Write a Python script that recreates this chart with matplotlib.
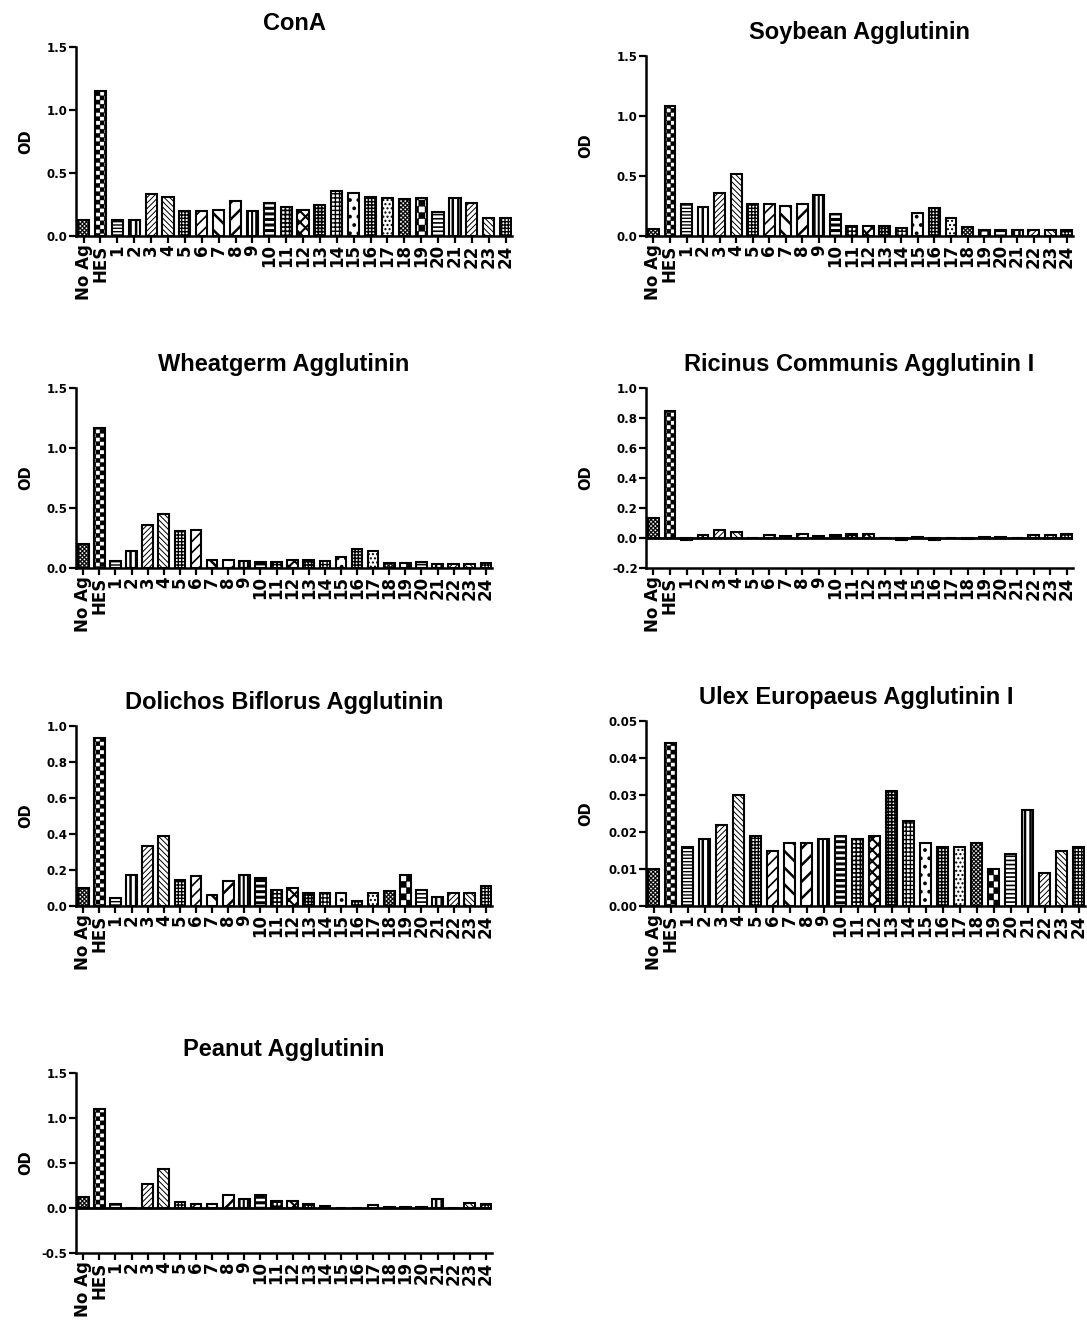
import warnings
import numpy as np
import matplotlib
matplotlib.use('Agg')
import matplotlib.pyplot as plt
import matplotlib.hatch as mhatch
from matplotlib.path import Path
from matplotlib.ticker import FormatStrFormatter, MultipleLocator

warnings.filterwarnings('ignore')

# lectin binding ELISA, OD per antigen
categories = ['No Ag', 'HES'] + [str(i) for i in range(1, 25)]

cona = [0.13, 1.15, 0.13, 0.13, 0.33, 0.31, 0.20, 0.20, 0.21, 0.28, 0.195, 0.26, 0.23,
        0.21, 0.25, 0.355, 0.34, 0.31, 0.30, 0.29, 0.30, 0.19, 0.30, 0.26, 0.14, 0.14]
soybean = [0.06, 1.085, 0.27, 0.24, 0.36, 0.52, 0.27, 0.265, 0.25, 0.265, 0.34, 0.18, 0.08,
           0.08, 0.08, 0.07, 0.19, 0.23, 0.15, 0.075, 0.05, 0.05, 0.05, 0.05, 0.05, 0.05]
wheatgerm = [0.20, 1.17, 0.06, 0.145, 0.36, 0.45, 0.305, 0.315, 0.07, 0.065, 0.055, 0.05, 0.05,
             0.07, 0.07, 0.055, 0.09, 0.16, 0.145, 0.045, 0.045, 0.05, 0.035, 0.035, 0.035, 0.04]
ricinus = [0.135, 0.85, -0.01, 0.02, 0.055, 0.04, 0.003, 0.02, 0.015, 0.025, 0.015, 0.02, 0.03,
           0.028, 0.002, -0.01, 0.005, -0.015, 0.002, -0.007, 0.006, 0.006, 0.001, 0.02, 0.02, 0.028]
dolichos = [0.10, 0.935, 0.045, 0.17, 0.335, 0.39, 0.145, 0.165, 0.06, 0.14, 0.175, 0.155, 0.09,
            0.10, 0.07, 0.07, 0.07, 0.03, 0.07, 0.085, 0.175, 0.09, 0.05, 0.075, 0.075, 0.11]
ulex = [0.010, 0.044, 0.016, 0.018, 0.022, 0.030, 0.019, 0.015, 0.017, 0.017, 0.018, 0.019, 0.018,
        0.019, 0.031, 0.023, 0.017, 0.016, 0.016, 0.017, 0.010, 0.014, 0.026, 0.009, 0.015, 0.016]
peanut = [0.12, 1.095, 0.04, -0.005, 0.27, 0.43, 0.07, 0.05, 0.05, 0.15, 0.105, 0.14, 0.075,
          0.08, 0.045, 0.02, 0.003, 0.003, 0.035, 0.008, 0.008, 0.008, 0.095, 0.003, 0.055, 0.045]

# prism-like fill for each bar ('c'/'cc'/'C' = checkerboards, added below)
hatches = ['cc', 'c', '-----', '|||', '//////', '\\\\\\\\\\\\', '+++++', '///', '\\\\', '//',
           '||||', '---', '++++', 'xxx', '+++++', '++++', '..', '+++++', '....', 'cc', 'C',
           '----', '|||', '//////', '\\\\\\\\\\\\', '+++++']
hatch_lw = [0.3, 0.3, 1.0, 1.8, 0.7, 0.7, 1.0, 1.2, 1.8, 1.8,
            1.5, 2.2, 1.2, 1.5, 1.2, 1.0, 1.5, 1.1, 1.0, 0.3, 0.3,
            1.2, 1.8, 0.7, 0.7, 1.0]


class CheckerHatch(mhatch.Shapes):
    filled = True
    size = 1.0

    def __init__(self, hatch, density):
        n = hatch.count('c')
        self.num_rows = (6 * n if n else 0) + 4 * hatch.count('C')
        verts, codes = [], []
        for i in range(4):
            for j in range(4):
                if (i + j) % 2 == 0:
                    x0 = -0.5 + 0.25 * i
                    y0 = -0.5 + 0.25 * j
                    verts += [(x0, y0), (x0 + 0.25, y0), (x0 + 0.25, y0 + 0.25),
                              (x0, y0 + 0.25), (x0, y0)]
                    codes += [Path.MOVETO, Path.LINETO, Path.LINETO, Path.LINETO, Path.CLOSEPOLY]
        self.shape_vertices = np.array(verts, dtype=float)
        self.shape_codes = np.array(codes, dtype=Path.code_type)
        super().__init__(hatch, density)


mhatch._hatch_types.append(CheckerHatch)

plt.rcParams['font.family'] = 'DejaVu Sans'
plt.rcParams['font.weight'] = 'bold'

W, H = 1087, 1320
fig = plt.figure(figsize=(W / 100, H / 100), dpi=100)

# (title, values, ymin, ymax, step, fmt, panel box in px: left, top, right, bottom, OD offset)
panels = [
    ('ConA', cona, 0, 1.5, 0.5, '%.1f', (76, 47, 512, 236), 50),
    ('Soybean Agglutinin', soybean, 0, 1.5, 0.5, '%.1f', (646, 56, 1073, 236), 60),
    ('Wheatgerm Agglutinin', wheatgerm, 0, 1.5, 0.5, '%.1f', (76, 388, 492, 568), 50),
    ('Ricinus Communis Agglutinin I', ricinus, -0.2, 1.0, 0.2, '%.1f', (646, 388, 1073, 568), 60),
    ('Dolichos Biflorus Agglutinin', dolichos, 0, 1.0, 0.2, '%.1f', (76, 726, 492, 906), 50),
    ('Ulex Europaeus Agglutinin I', ulex, 0, 0.05, 0.01, '%.2f', (646, 721, 1085, 906), 60),
    ('Peanut Agglutinin', peanut, -0.5, 1.5, 0.5, '%.1f', (76, 1073, 492, 1253), 50),
]

x = np.arange(len(categories))

for title, vals, ymin, ymax, step, fmt, box, od_off in panels:
    l, t, r, b = box
    ax = fig.add_axes([l / W, 1 - b / H, (r - l) / W, (b - t) / H])
    bars = ax.bar(x, vals, width=0.66, color='white', edgecolor='black', linewidth=1.5)
    for p, h, hl in zip(bars.patches, hatches, hatch_lw):
        p.set_hatch(h)
        if hasattr(p, 'set_hatch_linewidth'):
            p.set_hatch_linewidth(hl)
    if ymin < 0:
        ax.axhline(0, color='black', lw=2, zorder=3)
    ax.set_xlim(-0.45, 25.38)
    ax.set_ylim(ymin, ymax)
    ax.yaxis.set_major_locator(MultipleLocator(step))
    ax.yaxis.set_major_formatter(FormatStrFormatter(fmt))
    ax.set_xticks(x)
    ax.set_xticklabels(categories, rotation=90, fontsize=12, fontweight='bold')
    for lab in ax.get_yticklabels():
        lab.set_fontsize(8.5)
        lab.set_fontweight('bold')
    ax.tick_params(axis='both', direction='out', length=5, width=1.6)
    ax.tick_params(axis='y', pad=1)
    ax.tick_params(axis='x', pad=1)
    for s in ['top', 'right']:
        ax.spines[s].set_visible(False)
    for s in ['left', 'bottom']:
        ax.spines[s].set_linewidth(1.8)
    tx = 0.48 if title.startswith('Ulex') else 0.5
    ax.set_title(title, fontsize=17, fontweight='bold', family='Liberation Sans', pad=12, x=tx)
    fig.text((l - od_off) / W, 1 - (t + b) / 2 / H, 'OD', rotation=90, ha='center', va='center',
             fontsize=10.5, fontweight='bold')

fig.savefig('out.png', dpi=100)
